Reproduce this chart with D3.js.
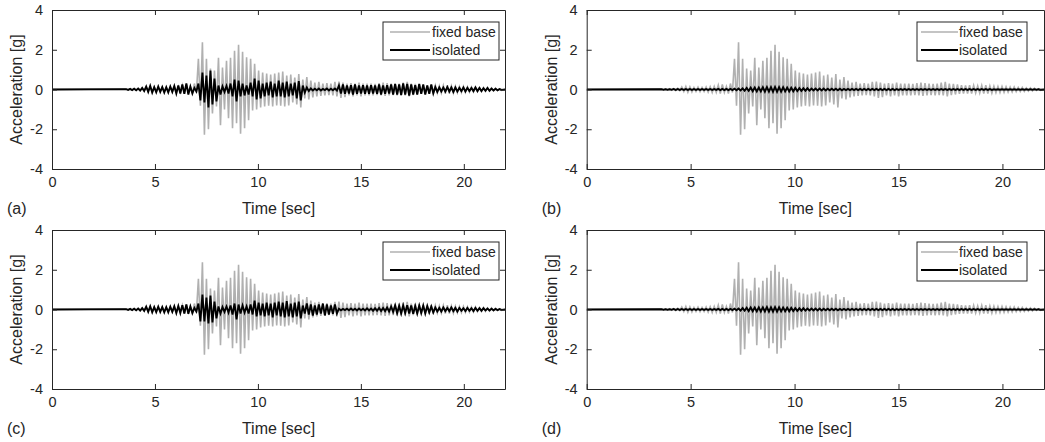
<!DOCTYPE html>
<html>
<head>
<meta charset="utf-8">
<script src="https://cdn.jsdelivr.net/npm/d3@7"></script>
<style>
html,body{margin:0;padding:0;background:#fff;}
svg{display:block;}
text{font-family:"Liberation Sans",Arial,Helvetica,sans-serif;fill:#262626;}
</style>
</head>
<body>
<svg id="chart" width="1045" height="442"></svg>
<script>
// ---------------- DATA ----------------
const xTicks = [0, 5, 10, 15, 20];
const yTicks = [-4, -2, 0, 2, 4];
const xDomain = [0, 22];
const yDomain = [-4, 4];
const panelLabels = ["(a)", "(b)", "(c)", "(d)"];
const seriesNames = ["fixed base", "isolated"];
const xLabel = "Time [sec]";
const yLabel = "Acceleration [g]";

// cycle timing of the extrema (start time and cycle length, seconds)
const cycleStart = 3.6;
const cyclePeriod = 0.195;

// fixed base: positive / negative peak of each cycle [g]
const fixedPos = [
  0.02,0.03,0.04,0.05,0.06,0.12,0.15,0.13,0.10,0.12,
  0.10,0.12,0.14,0.15,0.22,0.25,0.15,0.30,1.55,2.38,
  1.55,1.05,0.95,1.60,1.10,1.45,1.60,1.95,2.25,1.90,
  1.62,1.55,1.30,0.95,0.85,0.80,0.75,0.80,0.85,0.90,
  0.70,0.75,0.60,0.78,0.50,0.62,0.45,0.35,0.38,0.30,
  0.32,0.30,0.38,0.40,0.35,0.30,0.32,0.30,0.35,0.30,
  0.30,0.30,0.28,0.32,0.35,0.32,0.30,0.28,0.30,0.35,
  0.38,0.30,0.28,0.25,0.22,0.20,0.22,0.20,0.18,0.20,
  0.22,0.18,0.16,0.15,0.15,0.14,0.12,0.12,0.10,0.10,
  0.08,0.08,0.06,0.04];
const fixedNeg = [
  -0.02,-0.03,-0.04,-0.05,-0.06,-0.10,-0.14,-0.12,-0.10,-0.11,
  -0.10,-0.13,-0.15,-0.14,-0.20,-0.15,-0.20,-0.15,-0.82,-2.28,
  -2.00,-1.20,-0.85,-1.80,-1.00,-1.45,-1.95,-1.70,-2.22,-1.95,
  -1.55,-1.05,-1.00,-0.90,-0.85,-0.82,-0.85,-0.80,-0.82,-0.85,
  -0.80,-0.65,-0.75,-0.90,-0.45,-0.50,-0.40,-0.35,-0.32,-0.30,
  -0.28,-0.30,-0.35,-0.42,-0.38,-0.30,-0.35,-0.30,-0.35,-0.30,
  -0.30,-0.30,-0.28,-0.30,-0.32,-0.30,-0.28,-0.30,-0.28,-0.30,
  -0.35,-0.28,-0.25,-0.22,-0.20,-0.20,-0.20,-0.18,-0.18,-0.20,
  -0.20,-0.18,-0.16,-0.15,-0.14,-0.13,-0.12,-0.11,-0.10,-0.09,
  -0.08,-0.07,-0.05,-0.04];

// isolated, panel (a)
const isoAPos = [
  0.02,0.03,0.04,0.05,0.08,0.15,0.18,0.12,0.15,0.12,
  0.12,0.15,0.18,0.20,0.25,0.30,0.15,0.08,0.30,0.85,
  0.70,0.95,0.55,0.20,0.15,0.18,0.30,0.50,0.45,0.30,
  0.20,0.35,0.55,0.45,0.30,0.35,0.40,0.30,0.45,0.35,
  0.40,0.30,0.35,0.42,0.20,0.10,0.05,0.04,0.05,0.03,
  0.05,0.04,0.05,0.20,0.25,0.20,0.22,0.25,0.20,0.22,
  0.20,0.22,0.20,0.25,0.20,0.22,0.25,0.28,0.25,0.30,
  0.28,0.25,0.22,0.28,0.25,0.20,0.25,0.12,0.10,0.10,
  0.12,0.10,0.10,0.08,0.10,0.08,0.08,0.10,0.08,0.06,
  0.08,0.05,0.04,0.02];
const isoANeg = [
  -0.02,-0.03,-0.04,-0.05,-0.08,-0.12,-0.15,-0.14,-0.12,-0.15,
  -0.15,-0.12,-0.20,-0.20,-0.22,-0.25,-0.20,-0.10,-0.55,-0.65,
  -0.90,-0.75,-0.60,-0.25,-0.12,-0.20,-0.35,-0.60,-0.35,-0.30,
  -0.25,-0.35,-0.50,-0.45,-0.35,-0.30,-0.40,-0.35,-0.35,-0.40,
  -0.35,-0.30,-0.45,-0.55,-0.15,-0.08,-0.05,-0.04,-0.05,-0.03,
  -0.05,-0.04,-0.05,-0.20,-0.22,-0.20,-0.25,-0.22,-0.20,-0.22,
  -0.22,-0.20,-0.22,-0.25,-0.22,-0.20,-0.25,-0.25,-0.28,-0.25,
  -0.30,-0.25,-0.25,-0.22,-0.25,-0.22,-0.20,-0.12,-0.10,-0.10,
  -0.10,-0.12,-0.10,-0.08,-0.10,-0.08,-0.08,-0.08,-0.08,-0.06,
  -0.06,-0.05,-0.04,-0.02];

// isolated, panel (b)
const isoBPos = [
  0.01,0.01,0.01,0.02,0.02,0.02,0.02,0.02,0.02,0.02,
  0.02,0.02,0.02,0.02,0.03,0.03,0.03,0.03,0.04,0.05,
  0.06,0.08,0.09,0.10,0.10,0.11,0.12,0.12,0.13,0.12,
  0.11,0.10,0.09,0.08,0.07,0.06,0.06,0.05,0.05,0.05,
  0.05,0.04,0.04,0.04,0.04,0.03,0.03,0.03,0.03,0.03,
  0.03,0.03,0.03,0.03,0.03,0.03,0.03,0.03,0.02,0.02,
  0.02,0.02,0.02,0.02,0.02,0.02,0.02,0.02,0.02,0.02,
  0.02,0.02,0.02,0.02,0.02,0.02,0.02,0.02,0.02,0.02,
  0.02,0.02,0.01,0.01,0.01,0.01,0.01,0.01,0.01,0.01,
  0.01,0.01,0.01,0.01];
const isoBNeg = [
  -0.01,-0.01,-0.01,-0.02,-0.02,-0.02,-0.02,-0.02,-0.02,-0.02,
  -0.02,-0.02,-0.02,-0.02,-0.03,-0.03,-0.03,-0.03,-0.04,-0.05,
  -0.06,-0.07,-0.09,-0.10,-0.10,-0.11,-0.11,-0.12,-0.12,-0.11,
  -0.10,-0.10,-0.09,-0.08,-0.07,-0.06,-0.06,-0.05,-0.05,-0.05,
  -0.05,-0.04,-0.04,-0.04,-0.04,-0.03,-0.03,-0.03,-0.03,-0.03,
  -0.03,-0.03,-0.03,-0.03,-0.03,-0.03,-0.03,-0.03,-0.02,-0.02,
  -0.02,-0.02,-0.02,-0.02,-0.02,-0.02,-0.02,-0.02,-0.02,-0.02,
  -0.02,-0.02,-0.02,-0.02,-0.02,-0.02,-0.02,-0.02,-0.02,-0.02,
  -0.02,-0.02,-0.01,-0.01,-0.01,-0.01,-0.01,-0.01,-0.01,-0.01,
  -0.01,-0.01,-0.01,-0.01];

// isolated, panel (c)
const isoCPos = [
  0.02,0.03,0.04,0.05,0.07,0.14,0.16,0.12,0.14,0.12,
  0.12,0.14,0.16,0.18,0.22,0.25,0.15,0.08,0.30,0.75,
  0.60,0.70,0.40,0.15,0.12,0.15,0.20,0.30,0.25,0.20,
  0.15,0.25,0.45,0.35,0.30,0.35,0.30,0.35,0.40,0.35,
  0.42,0.30,0.35,0.40,0.20,0.30,0.25,0.20,0.25,0.30,
  0.25,0.20,0.25,0.04,0.03,0.04,0.05,0.04,0.05,0.04,
  0.06,0.05,0.06,0.08,0.08,0.10,0.15,0.20,0.18,0.20,
  0.22,0.20,0.18,0.20,0.20,0.18,0.15,0.10,0.08,0.10,
  0.08,0.10,0.08,0.08,0.06,0.08,0.06,0.08,0.06,0.06,
  0.05,0.04,0.03,0.02];
const isoCNeg = [
  -0.02,-0.03,-0.04,-0.05,-0.07,-0.12,-0.14,-0.13,-0.12,-0.14,
  -0.14,-0.12,-0.18,-0.18,-0.20,-0.22,-0.18,-0.10,-0.60,-0.60,
  -0.70,-0.65,-0.45,-0.20,-0.12,-0.15,-0.25,-0.50,-0.20,-0.15,
  -0.20,-0.25,-0.35,-0.30,-0.35,-0.30,-0.40,-0.30,-0.35,-0.40,
  -0.35,-0.40,-0.35,-0.45,-0.20,-0.25,-0.30,-0.25,-0.20,-0.30,
  -0.25,-0.22,-0.20,-0.04,-0.03,-0.04,-0.04,-0.05,-0.04,-0.05,
  -0.05,-0.06,-0.06,-0.08,-0.08,-0.10,-0.12,-0.18,-0.20,-0.18,
  -0.20,-0.22,-0.20,-0.18,-0.20,-0.15,-0.15,-0.10,-0.10,-0.08,
  -0.08,-0.08,-0.10,-0.06,-0.08,-0.06,-0.08,-0.06,-0.06,-0.05,
  -0.05,-0.04,-0.03,-0.02];

// isolated, panel (d)
const isoDPos = [
  0.01,0.01,0.01,0.02,0.02,0.02,0.02,0.02,0.02,0.02,
  0.02,0.02,0.02,0.02,0.03,0.03,0.03,0.03,0.04,0.05,
  0.07,0.09,0.10,0.10,0.11,0.11,0.12,0.11,0.12,0.11,
  0.10,0.09,0.08,0.07,0.06,0.06,0.05,0.05,0.05,0.05,
  0.04,0.04,0.04,0.04,0.03,0.03,0.03,0.03,0.03,0.03,
  0.03,0.03,0.03,0.03,0.03,0.03,0.03,0.03,0.02,0.02,
  0.02,0.02,0.02,0.02,0.02,0.02,0.02,0.02,0.02,0.02,
  0.02,0.02,0.02,0.02,0.02,0.02,0.02,0.02,0.02,0.02,
  0.02,0.02,0.01,0.01,0.01,0.01,0.01,0.01,0.01,0.01,
  0.01,0.01,0.01,0.01];
const isoDNeg = [
  -0.01,-0.01,-0.01,-0.02,-0.02,-0.02,-0.02,-0.02,-0.02,-0.02,
  -0.02,-0.02,-0.02,-0.02,-0.03,-0.03,-0.03,-0.03,-0.04,-0.05,
  -0.06,-0.08,-0.09,-0.10,-0.10,-0.10,-0.11,-0.11,-0.11,-0.10,
  -0.09,-0.09,-0.08,-0.07,-0.06,-0.06,-0.05,-0.05,-0.05,-0.05,
  -0.04,-0.04,-0.04,-0.04,-0.03,-0.03,-0.03,-0.03,-0.03,-0.03,
  -0.03,-0.03,-0.03,-0.03,-0.03,-0.03,-0.03,-0.03,-0.02,-0.02,
  -0.02,-0.02,-0.02,-0.02,-0.02,-0.02,-0.02,-0.02,-0.02,-0.02,
  -0.02,-0.02,-0.02,-0.02,-0.02,-0.02,-0.02,-0.02,-0.02,-0.02,
  -0.02,-0.02,-0.01,-0.01,-0.01,-0.01,-0.01,-0.01,-0.01,-0.01,
  -0.01,-0.01,-0.01,-0.01];

// ---------------- BUILD ----------------
function toSeries(pos, neg) {
  const pts = [[xDomain[0], 0]];
  pos.forEach((p, i) => {
    const t = cycleStart + i * cyclePeriod;
    pts.push([t, p]);
    pts.push([t + cyclePeriod / 2, neg[i]]);
  });
  pts.push([xDomain[1], 0]);
  return pts;
}

const fixedSeries = toSeries(fixedPos, fixedNeg);
const isoSeries = [
  toSeries(isoAPos, isoANeg),
  toSeries(isoBPos, isoBNeg),
  toSeries(isoCPos, isoCNeg),
  toSeries(isoDPos, isoDNeg)
];

const layout = [
  {left: 52,    right: 505,  top: 10,  bottom: 169, lg: {x0: 383, x1: 499, y0: 22, y1: 60, l0: 390, l1: 430, tx: 432}},
  {left: 586.7, right: 1044, top: 10,  bottom: 169, lg: {x0: 917, x1: 1027, y0: 22, y1: 61, l0: 921, l1: 958, tx: 959}},
  {left: 52,    right: 505,  top: 230, bottom: 389, lg: {x0: 383, x1: 499, y0: 242, y1: 280, l0: 390, l1: 430, tx: 432}},
  {left: 586.7, right: 1044, top: 230, bottom: 389, lg: {x0: 917, x1: 1027, y0: 242, y1: 281, l0: 921, l1: 958, tx: 959}}
];

const svg = d3.select("#chart");
const AX = "#262626";
const GRAY = "#b0b0b0";
const fmt = d => String(d);

layout.forEach((L, k) => {
  const x = d3.scaleLinear().domain(xDomain).range([L.left, L.right]);
  const y = d3.scaleLinear().domain(yDomain).range([L.bottom, L.top]);
  const g = svg.append("g");

  const clipId = "clip" + k;
  svg.append("clipPath").attr("id", clipId).append("rect")
    .attr("x", L.left).attr("y", L.top)
    .attr("width", L.right - L.left).attr("height", L.bottom - L.top);

  const line = d3.line().x(d => x(d[0])).y(d => y(d[1]));
  const plot = g.append("g").attr("clip-path", `url(#${clipId})`);
  plot.append("path").datum(fixedSeries)
    .attr("d", line).attr("fill", "none")
    .attr("stroke", GRAY).attr("stroke-width", 1.6).attr("stroke-linejoin", "miter");
  plot.append("path").datum(isoSeries[k])
    .attr("d", line).attr("fill", "none")
    .attr("stroke", "#000").attr("stroke-width", 1.9);

  // axes (MATLAB-like: inward ticks, box)
  const ax = g.append("g").attr("transform", `translate(0,${L.bottom})`)
    .call(d3.axisBottom(x).tickValues(xTicks).tickSizeInner(-5).tickSizeOuter(0).tickPadding(8).tickFormat(fmt));
  const axT = g.append("g").attr("transform", `translate(0,${L.top})`)
    .call(d3.axisTop(x).tickValues(xTicks).tickSizeInner(-5).tickSizeOuter(0).tickFormat(""));
  const ay = g.append("g").attr("transform", `translate(${L.left},0)`)
    .call(d3.axisLeft(y).tickValues(yTicks).tickSizeInner(-5).tickSizeOuter(0).tickPadding(9).tickFormat(fmt));
  const ayR = g.append("g").attr("transform", `translate(${L.right},0)`)
    .call(d3.axisRight(y).tickValues(yTicks).tickSizeInner(-5).tickSizeOuter(0).tickFormat(""));
  [ax, axT, ay, ayR].forEach(a => {
    a.select(".domain").attr("stroke", AX).attr("stroke-width", 1);
    a.selectAll(".tick line").attr("stroke", AX).attr("stroke-width", 1);
    a.selectAll(".tick text").attr("fill", AX)
      .style("font-size", "14.5px").style("font-family", '"Liberation Sans",Arial,sans-serif');
  });

  // axis labels
  g.append("text").attr("x", (L.left + L.right) / 2).attr("y", L.bottom + 45)
    .attr("text-anchor", "middle").style("font-size", "16px").text(xLabel);
  g.append("text")
    .attr("transform", `translate(${L.left - 30},${(L.top + L.bottom) / 2}) rotate(-90)`)
    .attr("text-anchor", "middle").style("font-size", "16px").text(yLabel);
  g.append("text").attr("x", L.left - 45).attr("y", L.bottom + 45)
    .style("font-size", "16px").text(panelLabels[k]);

  // legend
  const lg = L.lg;
  g.append("rect").attr("x", lg.x0).attr("y", lg.y0)
    .attr("width", lg.x1 - lg.x0).attr("height", lg.y1 - lg.y0)
    .attr("fill", "#fff").attr("stroke", AX).attr("stroke-width", 1);
  const rowY = [lg.y0 + 10, lg.y0 + 28];
  const colors = [GRAY, "#000"];
  seriesNames.forEach((s, j) => {
    g.append("line").attr("x1", lg.l0).attr("x2", lg.l1)
      .attr("y1", rowY[j]).attr("y2", rowY[j])
      .attr("stroke", colors[j]).attr("stroke-width", j ? 1.9 : 1.6);
    g.append("text").attr("x", lg.tx).attr("y", rowY[j] + 5)
      .style("font-size", "14px").text(s);
  });
});
</script>
</body>
</html>
